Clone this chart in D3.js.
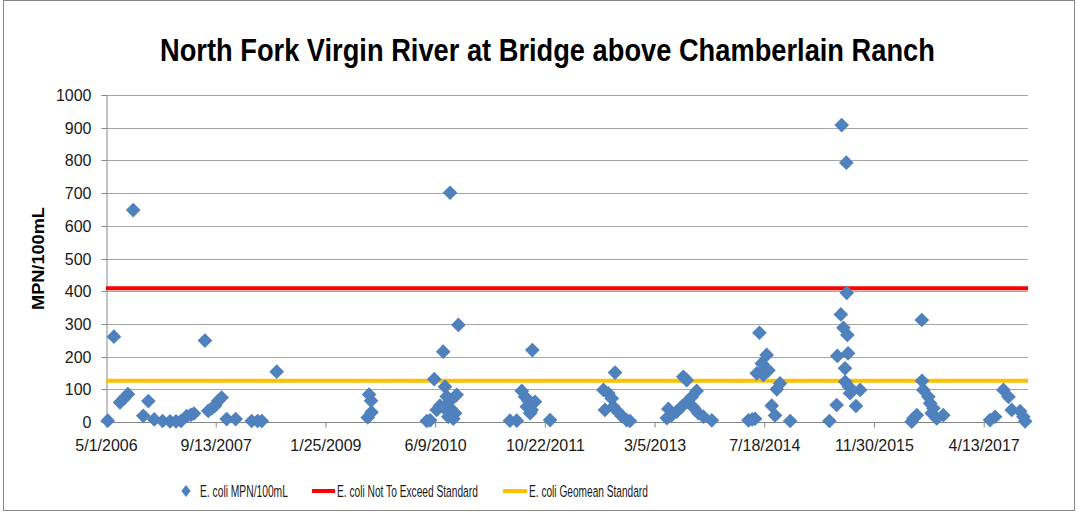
<!DOCTYPE html>
<html><head><meta charset="utf-8">
<script src="https://cdn.jsdelivr.net/npm/d3@7"></script>
<style>body{margin:0;background:#fff}svg{display:block}</style>
</head><body><svg id="c" width="1078" height="513"></svg>
<script>
const sampleDates = [
 "2006-05-09","2006-06-06","2006-07-04","2006-07-22","2006-08-09","2006-09-02","2006-10-18","2006-11-10","2006-12-07","2007-01-14",
 "2007-02-17","2007-03-16","2007-04-08","2007-05-04","2007-05-23","2007-06-06","2007-07-26","2007-08-10","2007-08-27","2007-09-10",
 "2007-09-25","2007-10-10","2007-11-02","2007-12-13","2008-02-24","2008-03-22","2008-04-10","2008-06-17",
 "2009-08-06","2009-08-12","2009-08-21","2009-08-23",
 "2010-05-02","2010-05-17","2010-06-05","2010-06-16","2010-07-01","2010-07-16","2010-07-17","2010-07-24","2010-08-01","2010-08-08",
 "2010-08-16","2010-08-17","2010-08-24","2010-08-31","2010-09-08","2010-09-15","2010-09-23",
 "2011-05-16","2011-06-16","2011-07-09","2011-07-24","2011-08-01","2011-08-08","2011-08-16","2011-08-23","2011-08-26","2011-09-07","2011-11-15",
 "2012-07-15","2012-07-22","2012-08-06","2012-08-22","2012-08-29","2012-09-06","2012-09-21","2012-10-06","2012-10-29","2012-11-13",
 "2013-04-30","2013-05-07","2013-05-22","2013-06-14","2013-07-07","2013-07-14","2013-07-30","2013-07-31","2013-08-22","2013-08-29",
 "2013-09-13","2013-09-21","2013-10-14","2013-11-21",
 "2014-05-07","2014-05-24","2014-06-06","2014-06-14","2014-06-26","2014-07-07","2014-07-14","2014-07-22","2014-07-29","2014-08-06",
 "2014-08-21","2014-09-05","2014-09-13","2014-09-28","2014-11-13",
 "2015-05-11","2015-06-13","2015-06-16","2015-07-02","2015-07-06","2015-07-14","2015-07-21","2015-07-22","2015-07-27","2015-07-29",
 "2015-08-01","2015-08-04","2015-08-08","2015-08-13","2015-09-09","2015-09-28",
 "2016-05-20","2016-05-28","2016-06-12","2016-07-05","2016-07-06","2016-07-12","2016-08-04","2016-08-12","2016-08-19","2016-08-27",
 "2016-09-11","2016-10-11",
 "2017-05-12","2017-06-04","2017-07-12","2017-08-04","2017-08-19","2017-09-26","2017-10-11","2017-10-19"
];
const ecoliValues = [
 4,261,60,72,85,648,19,64,8,3,
 2,2,3,18,22,26,249,34,42,50,
 65,75,9,9,3,3,3,154,
 14,84,65,30,
 3,5,131,37,50,215,45,108,78,16,
 701,65,37,10,27,83,297,
 4,4,95,77,47,65,27,37,220,62,6,
 98,37,88,72,47,151,30,18,6,3,
 12,40,21,32,47,138,128,62,77,45,
 95,27,16,5,
 5,8,10,149,273,179,144,164,205,158,
 50,20,100,118,3,
 3,52,202,329,908,288,164,123,793,395,
 266,210,108,88,49,98,
 1,11,21,312,126,98,77,57,27,42,
 11,21,
 6,16,98,77,37,33,16,2
];
const notToExceedStd = 409;
const geomeanStd = 126;
const xTickLabels = ["5/1/2006","9/13/2007","1/25/2009","6/9/2010","10/22/2011","3/5/2013","7/18/2014","11/30/2015","4/13/2017"];
const xDomain = ["2006-05-01","2017-11-01"];
const yTicks = [0,100,200,300,400,500,600,700,800,900,1000];
const legendLabels = ["E. coli MPN/100mL","E. coli Not To Exceed Standard","E. coli Geomean Standard"];
const titleText = "North Fork Virgin River at Bridge above Chamberlain Ranch";
const yLabel = "MPN/100mL";

const iso = d3.utcParse("%Y-%m-%d");
const mdy = s => { const [m,d,y] = s.split("/").map(Number); return new Date(Date.UTC(y,m-1,d)); };

const svg = d3.select("#c");
const W = 1078, H = 513;
const L = 106, R = 1028, T = 95, B = 422;
const FONT = "'Liberation Sans', Arial, sans-serif";

svg.append("rect").attr("x",0).attr("y",0).attr("width",W).attr("height",H).attr("fill","#fff");
svg.append("rect").attr("x",3.5).attr("y",0.5).attr("width",1071).attr("height",510)
  .attr("fill","none").attr("stroke","#868686").attr("stroke-width",1);

const x = d3.scaleUtc().domain(xDomain.map(iso)).range([L,R]);
const y = d3.scaleLinear().domain([0,1000]).range([B,T]);

// gridlines
svg.append("g").selectAll("line").data(yTicks.filter(v=>v>0)).join("line")
  .attr("x1",L).attr("x2",R).attr("y1",d=>Math.round(y(d))+0.5).attr("y2",d=>Math.round(y(d))+0.5)
  .attr("stroke","#a6a6a6").attr("stroke-width",1);

// y axis
const yAxis = svg.append("g").attr("transform",`translate(${L+0.5},0)`)
  .call(d3.axisLeft(y).tickValues(yTicks).tickSize(5).tickPadding(10).tickFormat(d3.format("d")));
yAxis.select(".domain").attr("stroke","#868686");
yAxis.selectAll(".tick line").attr("stroke","#868686");
yAxis.selectAll(".tick").attr("transform",d=>`translate(0,${Math.round(y(d))+0.5})`);
yAxis.selectAll("text").attr("font-family",FONT).attr("font-size",16).attr("fill","#1a1a1a").attr("dy","0.35em");

// x axis
const xAxis = svg.append("g").attr("transform",`translate(0,${B+0.5})`)
  .call(d3.axisBottom(x).tickValues(xTickLabels.map(mdy)).tickSize(5).tickPadding(12)
    .tickFormat(d=>`${d.getUTCMonth()+1}/${d.getUTCDate()}/${d.getUTCFullYear()}`));
xAxis.select(".domain").attr("stroke","#868686").attr("d",`M${L},0H${R}`);
xAxis.selectAll(".tick line").attr("stroke","#868686");
xAxis.selectAll("text").attr("font-family",FONT).attr("font-size",16).attr("fill","#1a1a1a");

// standard lines
const stds = [{v:notToExceedStd,c:"#ff0000"},{v:geomeanStd,c:"#ffc000"}];
svg.append("g").selectAll("line").data(stds).join("line")
  .attr("x1",L).attr("x2",R).attr("y1",d=>y(d.v)).attr("y2",d=>y(d.v))
  .attr("stroke",d=>d.c).attr("stroke-width",4);

// points
const pts = sampleDates.map((d,i)=>({date:iso(d), v:ecoliValues[i]}));
const sym = d3.symbol(d3.symbolSquare, 108);
svg.append("g").selectAll("path").data(pts).join("path")
  .attr("d",sym).attr("transform",d=>`translate(${x(d.date)},${y(d.v)}) rotate(45)`)
  .attr("fill","#4f81bd");

// condensed text: scale horizontally to a target width, keeping height
function condensed(parent, str, x0, y0, size, weight, target, rot){
  const g = parent.append("g").attr("transform",`translate(${x0},${y0})${rot?` rotate(${rot})`:""}`);
  const t = g.append("text").attr("x",0).attr("y",0).attr("font-family",FONT).attr("font-weight",weight)
    .attr("font-size",size).attr("fill","#000").text(str);
  const w = t.node().getComputedTextLength();
  t.attr("transform",`scale(${target/w},1)`);
  return t;
}

// title
condensed(svg, titleText, 160, 61, 32, "bold", 775);

// y label
condensed(svg, yLabel, 44, 310, 16, "bold", 103, -90);

// legend
const lg = svg.append("g");
lg.append("path").attr("d",d3.symbol(d3.symbolSquare,60)).attr("transform","translate(186,491) scale(0.85,1.1) rotate(45)").attr("fill","#4f81bd");
lg.append("line").attr("x1",312).attr("x2",335).attr("y1",491).attr("y2",491).attr("stroke","#ff0000").attr("stroke-width",4);
lg.append("line").attr("x1",503).attr("x2",527).attr("y1",491).attr("y2",491).attr("stroke","#ffc000").attr("stroke-width",4);
const legPos = [[200,88],[337,141],[529,119]];
legendLabels.forEach((t,i)=>{
  condensed(lg, t, legPos[i][0], 497, 17, "normal", legPos[i][1]).attr("fill","#1a1a1a");
});
</script></body></html>
